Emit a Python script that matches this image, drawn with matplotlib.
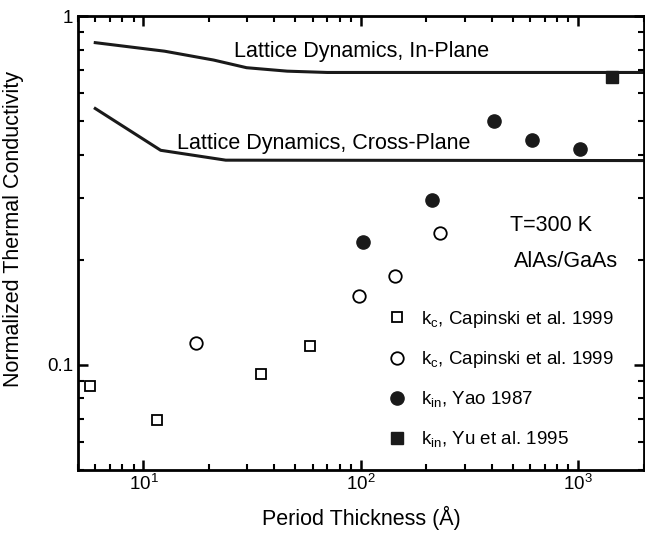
import numpy as np
import matplotlib
matplotlib.use("Agg")
import matplotlib.pyplot as plt

plt.rcParams['font.family'] = ['Liberation Sans', 'DejaVu Sans']
plt.rcParams['mathtext.fontset'] = 'custom'
plt.rcParams['mathtext.rm'] = 'Liberation Sans'

# lattice dynamics curves
inplane_x = [6.0, 12.5, 21, 29.8, 45.8, 70, 2000]
inplane_y = [0.839, 0.793, 0.748, 0.711, 0.695, 0.689, 0.689]
cross_x = [6.0, 12.0, 23.9, 2000]
cross_y = [0.543, 0.412, 0.386, 0.385]

# experimental points
cap_sq_x = [5.7, 11.6, 34.6, 58.2]
cap_sq_y = [0.0867, 0.0694, 0.094, 0.1134]
cap_ci_x = [17.5, 97.7, 143, 230.5]
cap_ci_y = [0.115, 0.157, 0.180, 0.238]
yao_x = [102, 213, 411, 610, 1020]
yao_y = [0.225, 0.296, 0.499, 0.44, 0.415]
yu_x = [1430]
yu_y = [0.670]

fig = plt.figure(figsize=(6.45, 5.36), dpi=100)
ax = fig.add_axes([0.121, 0.124, 0.877, 0.846])

ax.plot(inplane_x, inplane_y, color='#1a1a1a', lw=2.2)
ax.plot(cross_x, cross_y, color='#1a1a1a', lw=2.2)

ax.plot(cap_sq_x, cap_sq_y, 's', mfc='white', mec='black', mew=1.3, ms=7.5,
        label=r"k$_\mathregular{c}$, Capinski et al. 1999")
ax.plot(cap_ci_x, cap_ci_y, 'o', mfc='white', mec='black', mew=1.3, ms=9,
        label=r"k$_\mathregular{c}$, Capinski et al. 1999")
ax.plot(yao_x, yao_y, 'o', color='#1a1a1a', ms=9.5,
        label=r"k$_\mathregular{in}$, Yao 1987")
ax.plot(yu_x, yu_y, 's', color='#1a1a1a', ms=8,
        label=r"k$_\mathregular{in}$, Yu et al. 1995")

ax.set_xscale('log')
ax.set_yscale('log')
ax.set_xlim(5, 2000)
ax.set_ylim(0.05, 1)

ax.set_yticks([0.1, 1])
ax.set_yticklabels(['0.1', '1'])

ax.tick_params(which='both', direction='in', top=True, right=True, labelsize=13.5)
ax.tick_params(which='major', length=7, width=1.8)
ax.tick_params(which='minor', length=4, width=1.5)
ax.tick_params(axis='y', which='minor', labelleft=False)
for s in ax.spines.values():
    s.set_linewidth(2)

ax.set_xlabel('Period Thickness (Å)', fontsize=15.5, labelpad=8)
ax.set_ylabel('Normalized Thermal Conductivity', fontsize=15.5)
ax.yaxis.set_label_coords(-0.095, 0.53)

ax.text(26.1, 0.791, 'Lattice Dynamics, In-Plane', fontsize=15.5, va='center')
ax.text(14.3, 0.431, 'Lattice Dynamics, Cross-Plane', fontsize=15.5, va='center')
ax.text(484, 0.251, 'T=300 K', fontsize=15.5, va='center')
ax.text(504, 0.197, 'AlAs/GaAs', fontsize=15.5, va='center')

ax.legend(loc='upper left', bbox_to_anchor=(0.55, 0.355), frameon=False,
          fontsize=13.5, numpoints=1, handlelength=0.8, handletextpad=0.9,
          labelspacing=1.05, borderpad=0, borderaxespad=0)

fig.savefig('out.png', dpi=100)
